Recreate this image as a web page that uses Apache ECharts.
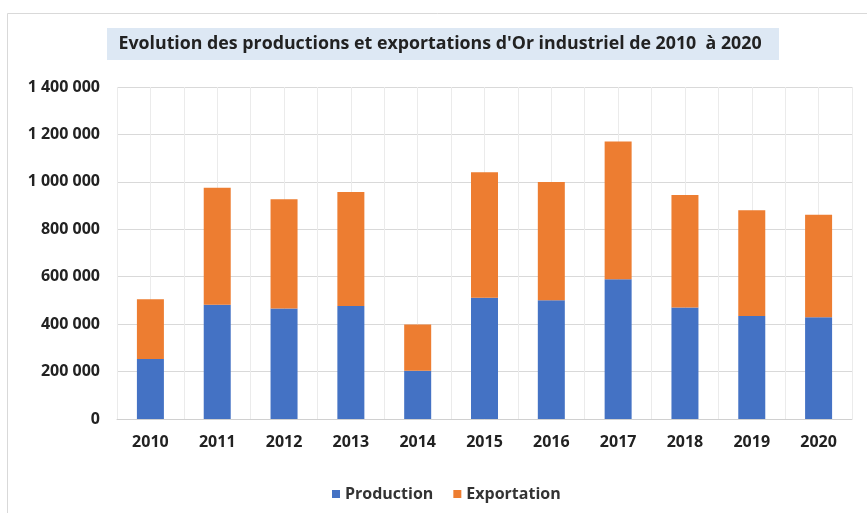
<!DOCTYPE html>
<html>
<head>
<meta charset="utf-8">
<script src="https://cdn.jsdelivr.net/npm/echarts@6/dist/echarts.min.js"></script>
<style>
  html, body { margin: 0; padding: 0; background: #fff; }
  #chart { width: 867px; height: 513px; }
</style>
</head>
<body>
<div id="chart"></div>
<script>
// data
var years = ['2010', '2011', '2012', '2013', '2014', '2015', '2016', '2017', '2018', '2019', '2020'];
var production = [253000, 482000, 466000, 476000, 203000, 511000, 501000, 589000, 470000, 434000, 429000];
var exportation = [252000, 493000, 461000, 481000, 195000, 529000, 498000, 581000, 475000, 446000, 432000];

var titleText = "Evolution des productions et exportations d'Or industriel de 2010  à 2020";
var font = '"Open Sans", "DejaVu Sans", sans-serif';

// half-category bands, only used for the light vertical grid
var halfBands = [];
years.forEach(function (y) { halfBands.push(y + 'a', y + 'b'); });

function spaced(v) {
  return String(v).replace(/\B(?=(\d{3})+(?!\d))/g, ' ');
}

var chart = echarts.init(document.getElementById('chart'));

var option = {
  backgroundColor: '#fff',
  animation: false,
  textStyle: { fontFamily: font },
  graphic: [
    {
      type: 'rect',
      shape: { x: 7.5, y: 13.5, width: 880, height: 520 },
      style: { fill: 'none', stroke: '#d9d9d9', lineWidth: 1 },
      silent: true
    },
    {
      type: 'rect',
      shape: { x: 107, y: 28, width: 672, height: 32 },
      style: { fill: '#dde8f4' },
      silent: true
    },
    {
      type: 'text',
      x: 440, y: 44,
      style: {
        text: titleText,
        fill: '#222',
        font: 'bold 17.8px ' + font,
        align: 'center',
        verticalAlign: 'middle'
      },
      silent: true
    }
  ],
  legend: {
    data: ['Production', 'Exportation'],
    left: 327,
    top: 481,
    icon: 'rect',
    itemWidth: 8,
    itemHeight: 8,
    itemGap: 20,
    textStyle: { fontSize: 16, fontWeight: 'bold', color: '#333', fontFamily: font }
  },
  grid: {
    left: 117,
    right: 15,
    top: 87,
    bottom: 94,
    containLabel: false
  },
  xAxis: [
    {
      type: 'category',
      data: years,
      boundaryGap: true,
      axisLine: { lineStyle: { color: '#d0d0d0', width: 1 } },
      axisTick: { show: false },
      splitLine: { show: false },
      axisLabel: {
        color: '#222',
        fontSize: 16,
        fontWeight: 'bold',
        margin: 15,
        fontFamily: font
      }
    },
    {
      type: 'category',
      data: halfBands,
      position: 'bottom',
      boundaryGap: true,
      axisLine: { show: false },
      axisTick: { show: false },
      axisLabel: { show: false },
      splitLine: { show: true, interval: 0, lineStyle: { color: '#ebebeb', width: 1 } }
    }
  ],
  yAxis: {
    type: 'value',
    min: 0,
    max: 1400000,
    interval: 200000,
    axisLine: { show: false },
    axisTick: { show: false },
    splitLine: { lineStyle: { color: '#d9d9d9', width: 1 } },
    axisLabel: {
      color: '#222',
      fontSize: 16,
      fontWeight: 'bold',
      margin: 17,
      fontFamily: font,
      formatter: spaced
    }
  },
  series: [
    {
      name: 'Production',
      type: 'bar',
      stack: 'total',
      xAxisIndex: 0,
      barWidth: 27,
      itemStyle: { color: '#4472c4' },
      data: production
    },
    {
      name: 'Exportation',
      type: 'bar',
      stack: 'total',
      xAxisIndex: 0,
      barWidth: 27,
      itemStyle: { color: '#ed7d31' },
      data: exportation
    }
  ]
};

chart.setOption(option);
</script>
</body>
</html>
